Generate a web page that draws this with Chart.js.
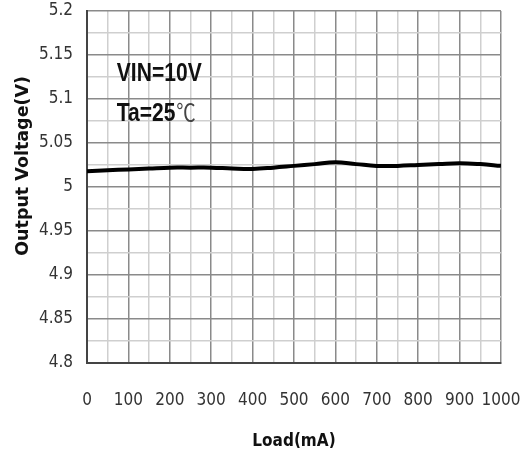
<!DOCTYPE html>
<html>
<head>
<meta charset="utf-8">
<script src="https://cdn.jsdelivr.net/npm/chart.js@4"></script>
<style>
  html, body { margin: 0; padding: 0; background: #fff; }
  #wrap { width: 525px; height: 456px; position: relative; }
</style>
</head>
<body>
<div id="wrap"><canvas id="chart"></canvas></div>
<script>
// Load (mA) sampled every 50 mA
const loadMA = [0, 50, 100, 150, 200, 250, 300, 350, 400, 450, 500, 550, 600, 650, 700, 750, 800, 850, 900, 950, 1000];
// Output voltage
const outputV = [5.018, 5.019, 5.020, 5.021, 5.022, 5.022, 5.022, 5.021, 5.0205, 5.022, 5.024, 5.026, 5.028, 5.026, 5.024, 5.024, 5.025, 5.026, 5.027, 5.026, 5.024];

const FONT = "'DejaVu Sans Condensed', 'Liberation Sans Narrow', sans-serif";

// Подписи условий измерения и заголовок оси Y (сдвинут выше центра, как в оригинале)
const notesPlugin = {
    id: 'notes',
    afterDraw(chart) {
        const ctx = chart.ctx;
        const sx = chart.scales.x, sy = chart.scales.y;
        const x = sx.getPixelForValue(72);
        const squeeze = 0.81;
        ctx.save();
        ctx.fillStyle = '#111';
        ctx.textBaseline = 'alphabetic';
        ctx.textAlign = 'left';

        ctx.save();
        ctx.translate(x, sy.getPixelForValue(5.1205));
        ctx.scale(squeeze, 1);
        ctx.font = 'bold 26px "Liberation Sans", sans-serif';
        ctx.fillText('VIN=10V', 0, 0);
        ctx.restore();

        ctx.save();
        ctx.translate(x, sy.getPixelForValue(5.075));
        ctx.scale(squeeze, 1);
        ctx.font = 'bold 26px "Liberation Sans", sans-serif';
        ctx.fillText('Ta=25', 0, 0);
        const w = ctx.measureText('Ta=25').width;
        ctx.font = '24px "Noto Sans CJK SC", "DejaVu Sans", sans-serif';
        ctx.fillStyle = '#444';
        ctx.fillText('℃', w + 1, 0);
        ctx.restore();

        // Output Voltage(V)
        ctx.save();
        ctx.translate(23, sy.getPixelForValue(5.024));
        ctx.rotate(-Math.PI / 2);
        ctx.textAlign = 'center';
        ctx.textBaseline = 'middle';
        ctx.font = "bold 17.5px 'DejaVu Sans', sans-serif";
        ctx.fillText('Output Voltage(V)', 0, 0);
        ctx.restore();

        ctx.restore();
    }
};

new Chart(document.getElementById('chart'), {
    type: 'line',
    data: {
        datasets: [{
            data: loadMA.map((v, i) => ({ x: v, y: outputV[i] })),
            borderColor: '#000',
            borderWidth: 4,
            pointRadius: 0,
            tension: 0.4,
            fill: false
        }]
    },
    options: {
        responsive: true,
        maintainAspectRatio: false,
        animation: false,
        layout: { padding: { top: 11, right: 24, left: 0, bottom: 0 } },
        plugins: {
            legend: { display: false },
            tooltip: { enabled: false }
        },
        scales: {
            x: {
                type: 'linear',
                min: 0,
                max: 1000,
                afterFit(s) { s.height = 93; s.paddingLeft = 0; s.paddingRight = 0; },
                ticks: {
                    stepSize: 50,
                    autoSkip: false,
                    maxRotation: 0,
                    padding: 27,
                    color: '#333',
                    font: { family: FONT, size: 17 },
                    callback: v => (v % 100 === 0 ? v : '')
                },
                grid: {
                    drawTicks: false,
                    color: c => (c.tick.value % 100 === 0 ? '#8a8a8a' : '#cfcfcf'),
                    lineWidth: 1.5
                },
                border: { color: '#444', width: 2 },
                title: {
                    display: true,
                    text: 'Load(mA)',
                    color: '#111',
                    font: { family: FONT, size: 17, weight: 'bold' },
                    padding: { top: 4 }
                }
            },
            y: {
                min: 4.8,
                max: 5.2,
                afterFit(s) { s.width = 87; s.paddingTop = 0; s.paddingBottom = 0; },
                ticks: {
                    stepSize: 0.025,
                    autoSkip: false,
                    padding: 14,
                    color: '#333',
                    font: { family: FONT, size: 17 },
                    callback: v => {
                        const k = Math.round(v * 1000);
                        return k % 50 === 0 ? String(+(v.toFixed(2))) : '';
                    }
                },
                grid: {
                    drawTicks: false,
                    color: c => (Math.round(c.tick.value * 1000) % 50 === 0 ? '#8a8a8a' : '#cfcfcf'),
                    lineWidth: 1.5
                },
                border: { color: '#444', width: 2 },
                title: { display: false }
            }
        }
    },
    plugins: [notesPlugin]
});
</script>
</body>
</html>
